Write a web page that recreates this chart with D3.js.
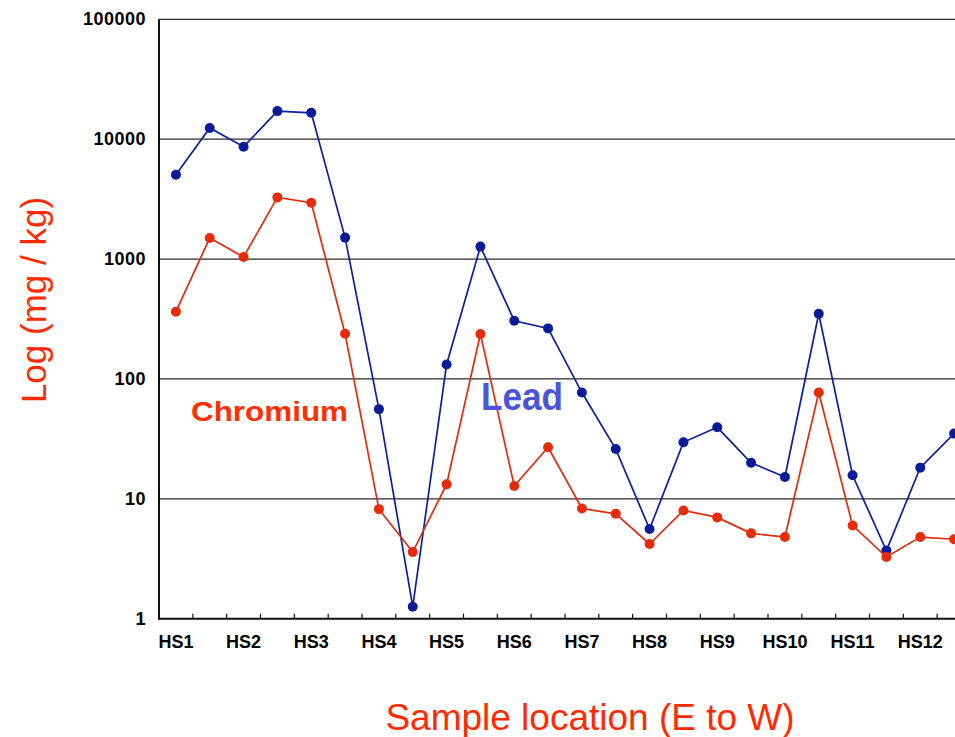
<!DOCTYPE html>
<html>
<head>
<meta charset="utf-8">
<script src="https://cdn.jsdelivr.net/npm/d3@7"></script>
<style>
  body { margin: 0; background: #fff; }
  svg { display: block; font-family: "Liberation Sans", Arial, Helvetica, sans-serif; }
</style>
</head>
<body>
<div id="chart"></div>
<script>
// --- DONNÉES ---
const points = d3.range(24); // 24 prélèvements, 2 par site HS
const siteLabels = ["HS1", "HS2", "HS3", "HS4", "HS5", "HS6", "HS7", "HS8", "HS9", "HS10", "HS11", "HS12"];
const yTicks = [1, 10, 100, 1000, 10000, 100000];

const lead = [5050, 12400, 8650, 17150, 16600, 1510, 56, 1.26, 132, 1270, 306, 264,
              77, 26, 5.6, 29.6, 39.5, 20, 15.2, 350, 15.7, 3.7, 18.2, 35];
const chromium = [364, 1500, 1040, 3270, 2950, 238, 8.2, 3.6, 13.2, 237, 12.8, 26.9,
                  8.3, 7.5, 4.2, 8, 7, 5.15, 4.8, 77, 6, 3.27, 4.8, 4.6];

// --- CONFIGURATION ---
const largeur = 955, hauteur = 737;
const gauche = 159, droite = 971, haut = 19.3, bas = 618.7;

const svg = d3.select("#chart").append("svg")
    .attr("width", largeur)
    .attr("height", hauteur);

const x = d3.scaleBand().domain(points).range([gauche, droite]).padding(0);
const y = d3.scaleLog().domain([1, 100000]).range([bas, haut]);
const cx = i => x(i) + x.bandwidth() / 2;

// grille horizontale
svg.append("g")
  .selectAll("line")
  .data(yTicks.slice(1))
  .join("line")
    .attr("x1", gauche).attr("x2", largeur)
    .attr("y1", d => y(d)).attr("y2", d => y(d))
    .attr("stroke", "#2a2a2a")
    .attr("stroke-width", 1.2);

// étiquettes axe Y
svg.append("g")
  .selectAll("text")
  .data(yTicks)
  .join("text")
    .attr("x", 146)
    .attr("y", d => y(d))
    .attr("dy", "0.33em")
    .attr("text-anchor", "end")
    .attr("font-size", 18)
    .attr("font-weight", "bold")
    .attr("letter-spacing", 0.5)
    .text(d => d);

// axes
svg.append("line")
    .attr("x1", gauche).attr("x2", gauche)
    .attr("y1", haut).attr("y2", bas + 1)
    .attr("stroke", "#111").attr("stroke-width", 2);
svg.append("line")
    .attr("x1", gauche - 1).attr("x2", largeur)
    .attr("y1", bas).attr("y2", bas)
    .attr("stroke", "#111").attr("stroke-width", 2);

// petites graduations (vers le haut)
svg.append("g")
  .selectAll("line")
  .data(points.slice(1).concat([24]))
  .join("line")
    .attr("x1", d => gauche + d * x.step())
    .attr("x2", d => gauche + d * x.step())
    .attr("y1", bas - 5).attr("y2", bas)
    .attr("stroke", "#111").attr("stroke-width", 1.2);

// étiquettes HS
svg.append("g")
  .selectAll("text")
  .data(siteLabels)
  .join("text")
    .attr("x", (d, i) => cx(i * 2))
    .attr("y", 648)
    .attr("text-anchor", "middle")
    .attr("font-size", 18)
    .attr("font-weight", "bold")
    .text(d => d);

// séries
const line = d3.line().x((d, i) => cx(i)).y(d => y(d));
const series = [
  { values: lead, line: "#0d1f9c", dot: "#0a1b98" },
  { values: chromium, line: "#e32a0c", dot: "#e52c0a" }
];
series.forEach(s => {
  svg.append("path")
      .datum(s.values)
      .attr("d", line)
      .attr("fill", "none")
      .attr("stroke", s.line)
      .attr("stroke-width", 1.7);
  svg.append("g")
    .selectAll("circle")
    .data(s.values)
    .join("circle")
      .attr("cx", (d, i) => cx(i))
      .attr("cy", d => y(d))
      .attr("r", 5)
      .attr("fill", s.dot);
});

// étiquettes des séries
svg.append("text")
    .attr("x", 191).attr("y", 421)
    .attr("font-size", 28).attr("font-weight", "bold")
    .attr("fill", "#ff3000")
    .attr("textLength", 157).attr("lengthAdjust", "spacingAndGlyphs")
    .text("Chromium");
svg.append("text")
    .attr("x", 481).attr("y", 410)
    .attr("font-size", 38).attr("font-weight", "bold")
    .attr("fill", "#4a55d9")
    .attr("textLength", 82).attr("lengthAdjust", "spacingAndGlyphs")
    .text("Lead");

// titres des axes
svg.append("text")
    .attr("transform", "translate(46,300) rotate(-90)")
    .attr("text-anchor", "middle")
    .attr("font-size", 35)
    .attr("fill", "#ff2a00")
    .text("Log (mg / kg)");
svg.append("text")
    .attr("x", 590).attr("y", 730)
    .attr("text-anchor", "middle")
    .attr("font-size", 37)
    .attr("fill", "#ff2a00")
    .text("Sample location (E to W)");
</script>
</body>
</html>
